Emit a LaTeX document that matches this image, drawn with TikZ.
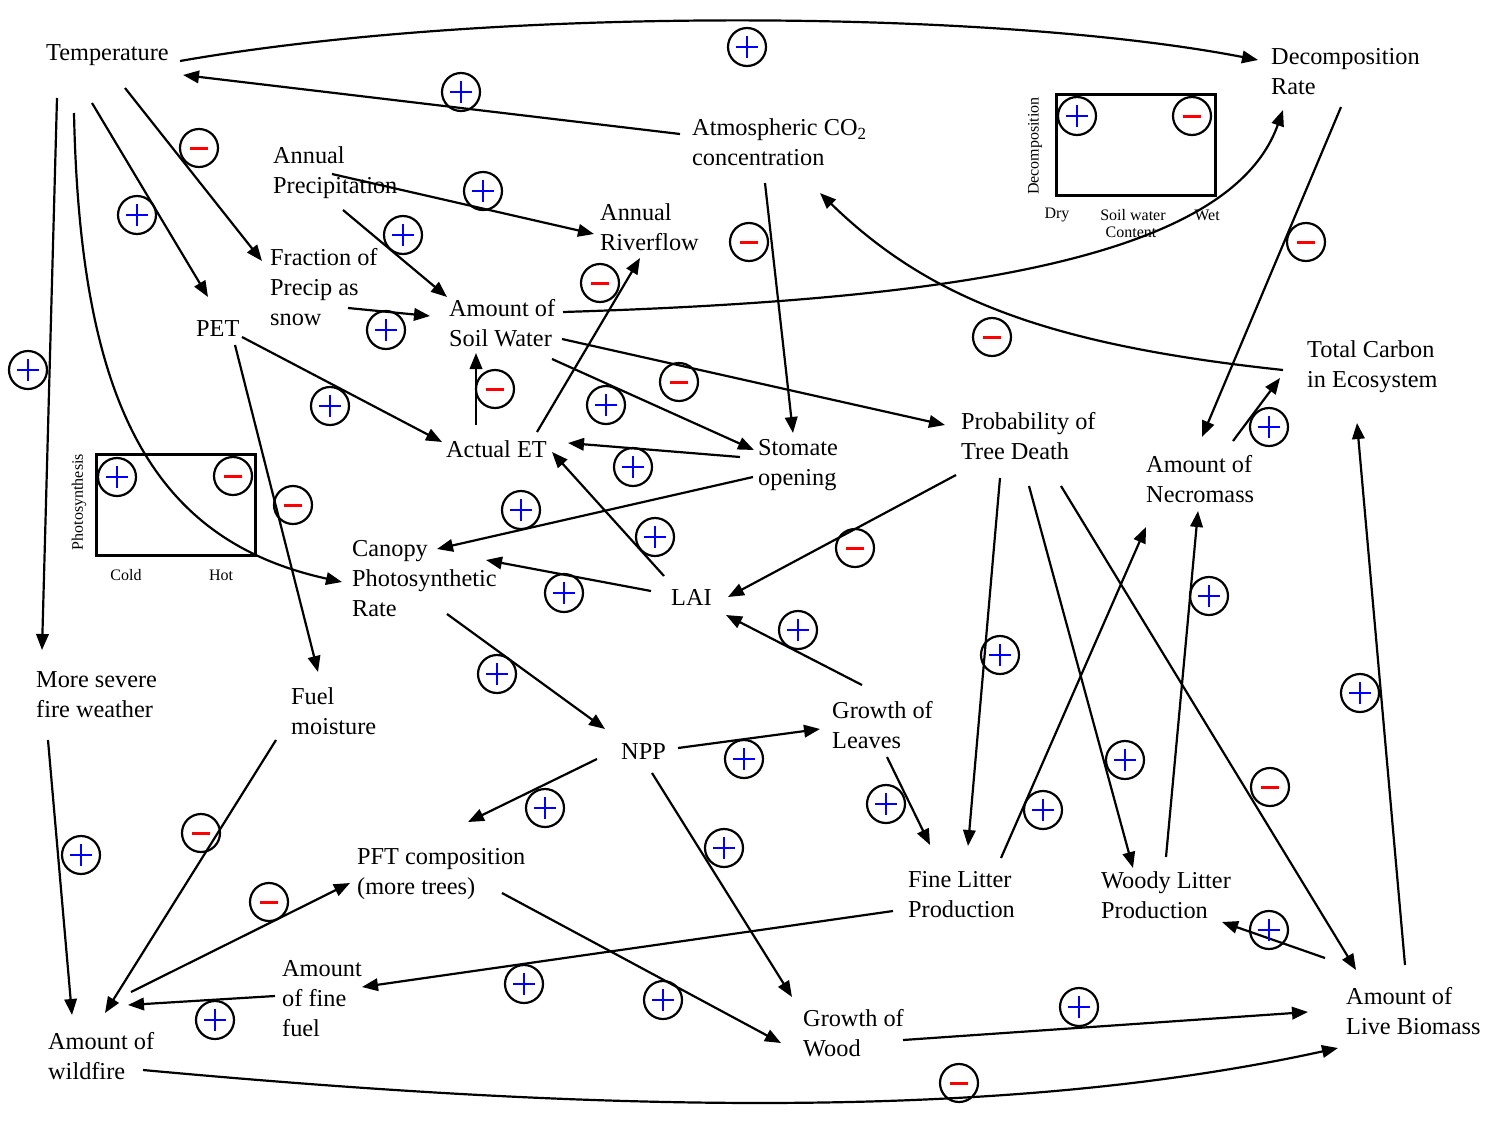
\documentclass[tikz,border=0pt]{standalone}
\usepackage{fontspec}
\setmainfont{Liberation Serif}
\usetikzlibrary{arrows.meta}
% point given as an offset from a node's west anchor
\newcommand\np[3]{([shift={(#2,#3)}]#1.west)}
\begin{document}
\begin{tikzpicture}[x=1pt,y=-1pt,
  lbl/.style={anchor=west,align=left,inner sep=0pt,font=\fontsize{24.3}{30}\selectfont},
  small/.style={inner sep=0pt,align=center,font=\fontsize{16}{16}\selectfont},
  arr/.style={line width=2.2pt,-{Triangle[length=16pt,width=12.5pt]}},
  graphbox/.style={draw,line width=2.5pt,anchor=north west,inner sep=0pt,minimum width=159pt,minimum height=101pt},
  sgn/.style={circle,draw,line width=2.2pt,minimum size=38pt,inner sep=0pt},
  pl/.style={sgn,path picture={\draw[blue,line width=2.5pt]
      ([xshift=-11pt]path picture bounding box.center)--([xshift=11pt]path picture bounding box.center)
      ([yshift=-11pt]path picture bounding box.center)--([yshift=11pt]path picture bounding box.center);}},
  mi/.style={sgn,path picture={\draw[red,line width=3pt]
      ([xshift=-9pt]path picture bounding box.center)--([xshift=9pt]path picture bounding box.center);}},
]
\useasboundingbox (0,0) rectangle (1500,1125);

% ---- variables ----
\node[lbl] (temp) at (46,55) {Temperature};
\node[lbl] (decomp) at (1271,72) {Decomposition\\Rate};
\node[lbl] (co2) at (692,142) {Atmospheric CO\textsubscript{2}\\concentration};
\node[lbl] (precip) at (273,173) {Annual\\Precipitation};
\node[lbl] (river) at (600,227) {Annual\\Riverflow};
\node[lbl] (snow) at (270,287) {Fraction of\\Precip as\\snow};
\node[lbl] (pet) at (196,329) {PET};
\node[lbl] (soil) at (449,323) {Amount of\\Soil Water};
\node[lbl] (carbon) at (1307,367) {Total Carbon\\in Ecosystem};
\node[lbl] (death) at (961,436) {Probability of\\Tree Death};
\node[lbl] (aet) at (446,449) {Actual ET};
\node[lbl] (stomate) at (758,465) {Stomate\\opening};
\node[lbl] (necro) at (1146,479) {Amount of\\Necromass};
\node[lbl] (canopy) at (352,579) {Canopy\\Photosynthetic\\Rate};
\node[lbl] (lai) at (671,597) {LAI};
\node[lbl] (fireweather) at (36,695) {More severe\\fire weather};
\node[lbl] (fuelmoist) at (291,711) {Fuel\\moisture};
\node[lbl] (leaves) at (832,725) {Growth of\\Leaves};
\node[lbl] (npp) at (621,752) {NPP};
\node[lbl] (pft) at (357,874) {PFT composition\\(more trees)};
\node[lbl] (fine) at (908,895) {Fine Litter\\Production};
\node[lbl] (woody) at (1101,895) {Woody Litter\\Production};
\node[lbl] (fuel) at (282,999) {Amount\\of fine\\fuel};
\node[lbl] (live) at (1346,1011) {Amount of\\Live Biomass};
\node[lbl] (wood) at (803,1033) {Growth of\\Wood};
\node[lbl] (wildfire) at (48,1056) {Amount of\\wildfire};

% ---- response sketches ----
\node[graphbox] (dbox) at (1055,93) {};
\node[pl] (dplus) at (1077,116) {};
\node[mi] (dminus) at (1192,116) {};
\node[small,rotate=90] (dlab) at (1035,146) {Decomposition};
\node[small] (dry) at (1057,215) {Dry};
\node[small] (swc) at (1133,215) {Soil water};
\node[small] (wet) at (1207,215) {Wet};
\node[small] (cont) at (1131,232) {Content};

\node[graphbox] (pbox) at (95,453) {};
\node[pl] (pplus) at (117,477) {};
\node[mi] (pminus) at (233,476) {};
\node[small,rotate=90] (plab) at (79,502) {Photosynthesis};
\node[small] (cold) at (126,575) {Cold};
\node[small] (hot) at (221,575) {Hot};

% ---- links ----
\draw[arr] \np{temp}{134}{6} .. controls (500,5) and (1000,10) .. \np{decomp}{-13}{-12};
\draw[arr] \np{co2}{-12}{-8} -- \np{temp}{137}{20};
\draw[arr] \np{temp}{11}{43} -- \np{fireweather}{6}{-45};
\draw[arr] \np{temp}{28}{58} .. controls (80,400) and (150,540) .. \np{canopy}{-10}{3};
\draw[arr] \np{temp}{46}{48} -- \np{pet}{12}{-32};
\draw[arr] \np{temp}{79}{33} -- \np{snow}{-8}{-26};
\draw[arr] \np{precip}{59}{1} -- \np{river}{-6}{7};
\draw[arr] \np{precip}{70}{37} -- \np{soil}{-2}{-26};
\draw[arr] \np{snow}{78}{21} -- \np{soil}{-19}{-7};
\draw[arr] \np{pet}{46}{8} -- \np{aet}{-4}{-7};
\draw[arr] \np{pet}{39}{16} -- \np{fuelmoist}{27}{-39};
\draw[arr] \np{aet}{30}{-24} -- \np{soil}{27}{30};
\draw[arr] \np{aet}{91}{-17} -- \np{river}{40}{31};
\draw[arr] \np{soil}{114}{-11} .. controls (950,300) and (1230,260) .. \np{decomp}{12}{38};
\draw[arr] \np{soil}{113}{16} -- \np{death}{-16}{-11};
\draw[arr] \np{soil}{103}{36} -- \np{stomate}{-4}{-15};
\draw[arr] \np{stomate}{-18}{-8} -- \np{aet}{122}{-6};
\draw[arr] \np{co2}{73}{41} -- \np{stomate}{35}{-32};
\draw[arr] \np{stomate}{-5}{12} -- \np{canopy}{85}{-30};
\draw[arr] \np{lai}{-7}{-21} -- \np{aet}{106}{3};
\draw[arr] \np{lai}{-20}{-6} -- \np{canopy}{134}{-19};
\draw[arr] \np{carbon}{-24}{3} .. controls (1050,345) and (930,300) .. \np{co2}{128}{51};
\draw[arr] \np{decomp}{70}{35} -- \np{necro}{56}{-42};
\draw[arr] \np{necro}{87}{-38} -- \np{carbon}{-27}{11};
\draw[arr] \np{live}{59}{-46} -- \np{carbon}{50}{56};
\draw[arr] \np{death}{-5}{39} -- \np{lai}{57}{0};
\draw[arr] \np{leaves}{30}{-40} -- \np{lai}{55}{18};
\draw[arr] \np{canopy}{95}{35} -- \np{npp}{-16}{-23};
\draw[arr] \np{npp}{57}{-4} -- \np{leaves}{-12}{4};
\draw[arr] \np{npp}{-24}{7} -- \np{pft}{111}{-52};
\draw[arr] \np{npp}{31}{21} -- \np{wood}{-11}{-36};
\draw[arr] \np{leaves}{55}{32} -- \np{fine}{22}{-50};
\draw[arr] \np{death}{39}{42} -- \np{fine}{60}{-49};
\draw[arr] \np{death}{68}{50} -- \np{woody}{32}{-27};
\draw[arr] \np{death}{100}{50} -- \np{live}{10}{-41};
\draw[arr] \np{fine}{93}{-37} -- \np{necro}{0}{48};
\draw[arr] \np{woody}{65}{-38} -- \np{necro}{52}{32};
\draw[arr] \np{live}{-21}{-53} -- \np{woody}{121}{27};
\draw[arr] \np{wood}{100}{7} -- \np{live}{-38}{1};
\draw[arr] \np{wildfire}{95}{14} .. controls (600,1112) and (1000,1122) .. \np{live}{-8}{37};
\draw[arr] \np{pft}{145}{19} -- \np{wood}{-22}{10};
\draw[arr] \np{fine}{-15}{16} -- \np{fuel}{80}{-12};
\draw[arr] \np{fuel}{-7}{-3} -- \np{wildfire}{80}{-51};
\draw[arr] \np{wildfire}{83}{-64} -- \np{pft}{-7}{9};
\draw[arr] \np{fuelmoist}{-15}{29} -- \np{wildfire}{57}{-43};
\draw[arr] \np{fireweather}{12}{45} -- \np{wildfire}{24}{-41};

% ---- link signs ----
\node[pl] (s1) at (747,47) {};
\node[pl] (s2) at (461,92) {};
\node[pl] (s3) at (28,370) {};
\node[pl] (s5) at (137,215) {};
\node[mi] (s6) at (199,148) {};
\node[pl] (s7) at (483,191) {};
\node[pl] (s8) at (403,235) {};
\node[pl] (s9) at (386,330) {};
\node[pl] (s10) at (330,406) {};
\node[mi] (s11) at (293,505) {};
\node[mi] (s12) at (495,389) {};
\node[mi] (s13) at (600,283) {};
\node[mi] (s15) at (679,382) {};
\node[pl] (s16) at (606,405) {};
\node[pl] (s17) at (633,467) {};
\node[mi] (s18) at (749,242) {};
\node[pl] (s19) at (521,510) {};
\node[pl] (s20) at (655,537) {};
\node[pl] (s21) at (564,593) {};
\node[mi] (s22) at (992,337) {};
\node[mi] (s23) at (1306,242) {};
\node[pl] (s24) at (1269,427) {};
\node[pl] (s25) at (1360,693) {};
\node[mi] (s26) at (855,548) {};
\node[pl] (s27) at (798,630) {};
\node[pl] (s28) at (497,674) {};
\node[pl] (s29) at (744,759) {};
\node[pl] (s30) at (545,808) {};
\node[pl] (s31) at (724,848) {};
\node[pl] (s32) at (886,804) {};
\node[pl] (s33) at (1000,655) {};
\node[pl] (s34) at (1125,760) {};
\node[mi] (s35) at (1270,787) {};
\node[pl] (s36) at (1043,810) {};
\node[pl] (s37) at (1209,596) {};
\node[pl] (s38) at (1269,930) {};
\node[pl] (s39) at (1079,1007) {};
\node[mi] (s40) at (959,1083) {};
\node[pl] (s41) at (663,1000) {};
\node[pl] (s42) at (524,984) {};
\node[pl] (s43) at (215,1020) {};
\node[mi] (s44) at (269,902) {};
\node[mi] (s45) at (201,833) {};
\node[pl] (s46) at (81,855) {};
\end{tikzpicture}
\end{document}
